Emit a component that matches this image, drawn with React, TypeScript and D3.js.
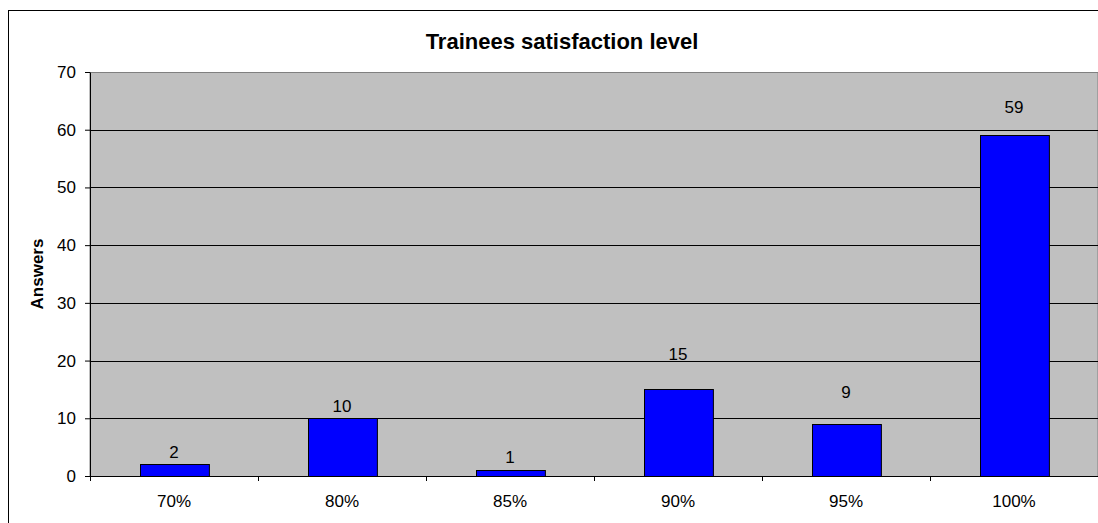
import { useEffect, useRef } from 'react';
import * as d3 from 'd3';

// chart data
const categories = ['70%', '80%', '85%', '90%', '95%', '100%'];
const answers = [2, 10, 1, 15, 9, 59];
const yTicks = [0, 10, 20, 30, 40, 50, 60, 70];
// Excel places some value labels higher than others (px between bar top and label baseline)
const labelGap = [6, 6, 7, 29, 26, 22];

export default function App() {
  const svgRef = useRef<SVGSVGElement | null>(null);

  useEffect(() => {
    if (!svgRef.current) return;
    const svg = d3.select(svgRef.current);
    svg.selectAll('*').remove();

    const width = 1098;
    const height = 523;
    const margin = { top: 72, right: 0, bottom: 47, left: 90 };
    const innerWidth = width - margin.left - margin.right;
    const innerHeight = height - margin.top - margin.bottom;
    const font = 'Arial, "Liberation Sans", sans-serif';

    svg.append('rect')
      .attr('width', width)
      .attr('height', height)
      .attr('fill', '#ffffff');

    // outer chart border (runs off the right and bottom edges)
    svg.append('rect')
      .attr('x', 8.5)
      .attr('y', 10.5)
      .attr('width', width + 20)
      .attr('height', height + 20)
      .attr('fill', 'none')
      .attr('stroke', '#000000')
      .attr('stroke-width', 1);

    svg.append('text')
      .attr('x', 562)
      .attr('y', 49)
      .attr('text-anchor', 'middle')
      .style('font-family', font)
      .style('font-size', '22px')
      .style('font-weight', 'bold')
      .text('Trainees satisfaction level');

    const x = d3.scaleBand()
      .domain(categories)
      .range([0, innerWidth])
      .paddingInner(0.59)
      .paddingOuter(0.295);

    const xOuter = d3.scaleBand()
      .domain(categories)
      .range([0, innerWidth]);

    const y = d3.scaleLinear()
      .domain([0, 70])
      .range([innerHeight, 0]);

    const g = svg.append('g')
      .attr('transform', `translate(${margin.left},${margin.top})`);

    g.append('rect')
      .attr('x', 0)
      .attr('y', 0.5)
      .attr('width', innerWidth)
      .attr('height', innerHeight)
      .attr('fill', '#c0c0c0')
      .attr('stroke', '#808080')
      .attr('stroke-width', 1);

    // gridlines
    g.selectAll('.grid')
      .data(yTicks.filter(d => d > 0 && d < 70))
      .enter()
      .append('line')
      .attr('x1', 0)
      .attr('x2', innerWidth)
      .attr('y1', d => Math.round(y(d)) + 0.5)
      .attr('y2', d => Math.round(y(d)) + 0.5)
      .attr('stroke', '#000000')
      .attr('stroke-width', 1);

    // bars
    g.selectAll('.bar')
      .data(answers)
      .enter()
      .append('rect')
      .attr('x', (d, i) => Math.round(x(categories[i])!) + 0.5)
      .attr('width', x.bandwidth())
      .attr('y', d => Math.round(y(d)) + 0.5)
      .attr('height', d => innerHeight - Math.round(y(d)))
      .attr('fill', '#0000ff')
      .attr('stroke', '#000000')
      .attr('stroke-width', 1);

    // value labels
    g.selectAll('.value-label')
      .data(answers)
      .enter()
      .append('text')
      .attr('x', (d, i) => x(categories[i])! + x.bandwidth() / 2)
      .attr('y', (d, i) => y(d) - labelGap[i])
      .attr('text-anchor', 'middle')
      .style('font-family', font)
      .style('font-size', '17px')
      .text(d => d);

    // y axis
    const yAxis = g.append('g')
      .call(d3.axisLeft(y).tickValues(yTicks).tickSize(5).tickPadding(9).tickSizeOuter(0));
    yAxis.select('.domain').attr('stroke', '#000000');
    yAxis.selectAll('.tick text')
      .style('font-family', font)
      .style('font-size', '17px')
      .attr('fill', '#000000');

    // x axis with ticks between categories
    const xAxis = g.append('g')
      .attr('transform', `translate(0,${innerHeight})`);
    xAxis.append('line')
      .attr('x1', 0)
      .attr('x2', innerWidth)
      .attr('y1', 0.5)
      .attr('y2', 0.5)
      .attr('stroke', '#000000');
    xAxis.selectAll('.xtick')
      .data(categories)
      .enter()
      .append('line')
      .attr('x1', d => Math.round(xOuter(d)!) + 0.5)
      .attr('x2', d => Math.round(xOuter(d)!) + 0.5)
      .attr('y1', 0)
      .attr('y2', 5)
      .attr('stroke', '#000000');
    xAxis.selectAll('.xlabel')
      .data(categories)
      .enter()
      .append('text')
      .attr('x', d => xOuter(d)! + xOuter.bandwidth() / 2)
      .attr('y', 31)
      .attr('text-anchor', 'middle')
      .style('font-family', font)
      .style('font-size', '17px')
      .text(d => d);

    svg.append('text')
      .attr('transform', `translate(43,${margin.top + innerHeight / 2}) rotate(-90)`)
      .attr('text-anchor', 'middle')
      .style('font-family', font)
      .style('font-size', '17px')
      .style('font-weight', 'bold')
      .text('Answers');
  }, []);

  return (
    <svg
      ref={svgRef}
      width={1098}
      height={523}
      style={{ position: 'absolute', left: 0, top: 0 }}
    ></svg>
  );
}
